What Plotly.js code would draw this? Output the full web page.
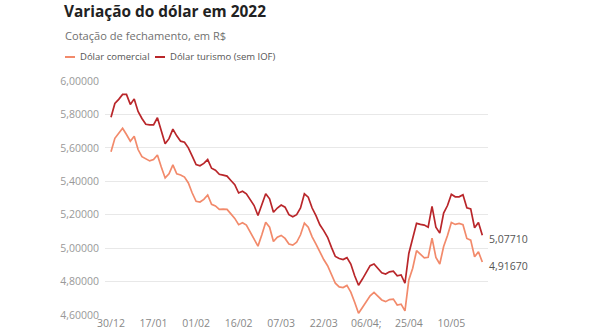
<!DOCTYPE html>
<html>
<head>
<meta charset="utf-8">
<script src="https://cdn.plot.ly/plotly-3.0.1.min.js"></script>
<style>
  html, body { margin: 0; padding: 0; background: #ffffff; }
  #chart { width: 590px; height: 330px; }
</style>
</head>
<body>
<div id="chart"></div>
<script>
// ---- Data ----
const dates = [
  "30/12","03/01","04/01","05/01","06/01","07/01","10/01","11/01","12/01","13/01","14/01",
  "17/01","18/01","19/01","20/01","21/01","24/01","25/01","26/01","27/01","28/01","31/01",
  "01/02","02/02","03/02","04/02","07/02","08/02","09/02","10/02","11/02","14/02","15/02",
  "16/02","17/02","18/02","21/02","22/02","23/02","24/02","25/02","02/03","03/03","04/03",
  "07/03","08/03","09/03","10/03","11/03","14/03","15/03","16/03","17/03","18/03","21/03",
  "22/03","23/03","24/03","25/03","28/03","29/03","30/03","31/03","01/04","04/04","05/04",
  "06/04","07/04","08/04","11/04","12/04","13/04","14/04","18/04","19/04","20/04","22/04",
  "25/04","26/04","27/04","28/04","29/04","02/05","03/05","04/05","05/05","06/05","09/05",
  "10/05","11/05","12/05","13/05","16/05","17/05","18/05","19/05","20/05"
];

const dolarComercial = [
  5.577,5.657,5.687,5.717,5.680,5.640,5.670,5.590,5.547,5.533,5.522,
  5.530,5.557,5.485,5.420,5.445,5.498,5.445,5.438,5.425,5.390,5.330,
  5.280,5.276,5.292,5.318,5.262,5.253,5.232,5.234,5.232,5.205,5.178,
  5.140,5.152,5.138,5.098,5.058,5.012,5.080,5.155,5.125,5.040,5.065,
  5.076,5.058,5.025,5.018,5.035,5.080,5.150,5.125,5.068,5.024,4.973,
  4.932,4.895,4.840,4.790,4.768,4.764,4.777,4.737,4.676,4.610,4.645,
  4.678,4.715,4.735,4.710,4.690,4.680,4.692,4.695,4.660,4.665,4.625,
  4.810,4.880,4.985,4.962,4.942,4.945,5.060,4.945,4.905,5.010,5.075,
  5.154,5.142,5.148,5.140,5.058,5.048,4.948,4.978,4.9167
];

const dolarTurismo = [
  5.783,5.866,5.890,5.920,5.920,5.860,5.893,5.818,5.776,5.741,5.737,
  5.737,5.780,5.695,5.625,5.655,5.712,5.672,5.640,5.634,5.600,5.550,
  5.500,5.493,5.507,5.530,5.478,5.466,5.442,5.437,5.431,5.405,5.380,
  5.330,5.340,5.325,5.292,5.255,5.195,5.260,5.325,5.295,5.215,5.240,
  5.258,5.245,5.200,5.188,5.200,5.240,5.325,5.305,5.240,5.194,5.140,
  5.105,5.065,5.005,4.950,4.938,4.932,4.943,4.905,4.835,4.778,4.815,
  4.858,4.895,4.905,4.875,4.852,4.845,4.858,4.862,4.835,4.840,4.790,
  4.968,5.055,5.148,5.142,5.138,5.125,5.250,5.125,5.090,5.210,5.255,
  5.322,5.307,5.307,5.320,5.241,5.235,5.122,5.154,5.0771
];

const seriesNames = ["Dólar comercial", "Dólar turismo (sem IOF)"];
const tickDates  = ["30/12","17/01","01/02","16/02","07/03","22/03","06/04","25/04","10/05"];
const tickLabels = ["30/12","17/01","01/02","16/02","07/03","22/03","06/04;","25/04","10/05"];
const yTicks = [4.6, 4.8, 5.0, 5.2, 5.4, 5.6, 5.8, 6.0];

const titleText = "Variação do dólar em 2022";
const subtitleText = "Cotação de fechamento, em R$";

// ---- Styling ----
const colComercial = "#f28a6b";
const colTurismo = "#b9262a";
const FONT = "'Open Sans', 'Noto Sans', sans-serif";

// plot area in pixels
const W = 590, H = 330, L = 105, R = 488, T = 81, B = 315;
const px = x => (x - L) / (R - L);
const py = y => (B - y) / (B - T);

const fmt = v => v.toFixed(5).replace(".", ",");

const traces = [
  { x: dates, y: dolarComercial, type: "scatter", mode: "lines", name: seriesNames[0],
    line: { color: colComercial, width: 1.7 }, hoverinfo: "skip" },
  { x: dates, y: dolarTurismo, type: "scatter", mode: "lines", name: seriesNames[1],
    line: { color: colTurismo, width: 1.7 }, hoverinfo: "skip" }
];

const n = dates.length;
const annotations = [
  { xref: "paper", yref: "paper", x: px(63), y: py(35), xanchor: "left", yanchor: "middle",
    text: subtitleText, showarrow: false, font: { family: FONT, size: 11.1, color: "#707070" } },
  { xref: "paper", yref: "paper", x: px(77.5), y: py(57), xanchor: "left", yanchor: "middle",
    text: seriesNames[0], showarrow: false, font: { family: FONT, size: 9.5, color: "#555" } },
  { xref: "paper", yref: "paper", x: px(167.5), y: py(57), xanchor: "left", yanchor: "middle",
    text: seriesNames[1], showarrow: false, font: { family: FONT, size: 9.5, color: "#555" } },
  { xref: "x", yref: "y", x: dates[n - 1], y: dolarTurismo[n - 1], xanchor: "left", yanchor: "middle",
    xshift: 5, yshift: -4, text: fmt(dolarTurismo[n - 1]), showarrow: false,
    font: { family: FONT, size: 10.5, color: "#555" } },
  { xref: "x", yref: "y", x: dates[n - 1], y: dolarComercial[n - 1], xanchor: "left", yanchor: "middle",
    xshift: 5, yshift: -4, text: fmt(dolarComercial[n - 1]), showarrow: false,
    font: { family: FONT, size: 10.5, color: "#555" } }
];

const shapes = [
  { type: "line", xref: "paper", yref: "paper", x0: px(65), x1: px(75), y0: py(57), y1: py(57),
    line: { color: colComercial, width: 2 } },
  { type: "line", xref: "paper", yref: "paper", x0: px(155), x1: px(165), y0: py(57), y1: py(57),
    line: { color: colTurismo, width: 2 } }
];

const layout = {
  width: W, height: H,
  margin: { l: L, r: W - R, t: T, b: H - B, pad: 0 },
  paper_bgcolor: "#ffffff", plot_bgcolor: "#ffffff",
  separators: ",.",
  showlegend: false,
  font: { family: FONT, color: "#999" },
  title: { text: "<b>" + titleText + "</b>", xref: "container", yref: "container",
           x: 64 / W, xanchor: "left", y: 1 - 12 / H, yanchor: "middle",
           font: { family: FONT, size: 15.4, color: "#222" } },
  xaxis: {
    type: "category",
    range: [-1.55, n - 1 + 1.47],
    tickmode: "array", tickvals: tickDates, ticktext: tickLabels,
    showgrid: false, zeroline: false, showline: false, ticks: "",
    tickfont: { family: FONT, size: 10.5, color: "#888" },
    fixedrange: true
  },
  yaxis: {
    range: [4.6, 6.0],
    tickmode: "array", tickvals: yTicks, tickformat: ".5f",
    showgrid: true, gridcolor: "#e8e8e8", gridwidth: 1,
    zeroline: false, showline: false, ticks: "", ticklabelstandoff: 5,
    tickfont: { family: FONT, size: 10.5, color: "#999" },
    fixedrange: true
  },
  annotations: annotations,
  shapes: shapes
};

Plotly.newPlot("chart", traces, layout, { staticPlot: true, displayModeBar: false });
</script>
</body>
</html>
